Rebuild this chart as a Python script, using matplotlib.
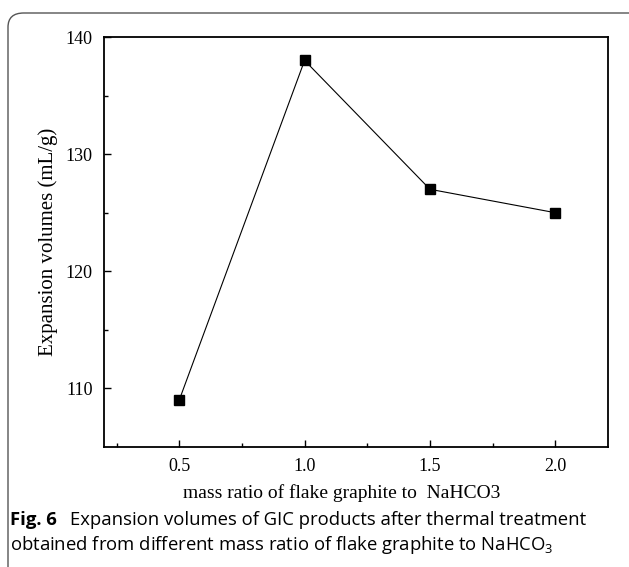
import matplotlib
matplotlib.use("Agg")
import matplotlib.pyplot as plt
from matplotlib.patches import FancyBboxPatch

# data
mass_ratio = [0.5, 1.0, 1.5, 2.0]
expansion = [109, 138, 127, 125]
x_ticks = [0.5, 1.0, 1.5, 2.0]
y_ticks = [110, 120, 130, 140]

plt.rcParams['mathtext.fontset'] = 'custom'
plt.rcParams['mathtext.rm'] = 'Open Sans'

fig = plt.figure(figsize=(6.29, 5.67), dpi=100)

# rounded frame around figure + caption
box = FancyBboxPatch((8 / 629, -0.05), 1.2, 0.05 + 1 - 13 / 567,
                     boxstyle="round,pad=0,rounding_size=0.025",
                     transform=fig.transFigure, fill=False,
                     edgecolor="#555555", linewidth=1.0)
fig.patches.append(box)

ax = fig.add_axes([104 / 629, 1 - 447 / 567, (608 - 104) / 629, (447 - 37) / 567])
ax.plot(mass_ratio, expansion, color="black", linewidth=0.8,
        marker="s", markersize=6.5, markerfacecolor="black")

ax.set_xlim(0.2, 2.21)
ax.set_ylim(105, 140)
ax.set_xticks(x_ticks)
ax.set_xticklabels(["%.1f" % v for v in x_ticks])
ax.set_yticks(y_ticks)
ax.set_xticks([0.25, 0.75, 1.25, 1.75], minor=True)
ax.set_yticks([115, 125, 135], minor=True)
ax.tick_params(which="both", direction="in", top=False, right=False)
ax.tick_params(which="major", length=5, width=1.0, labelsize=13, pad=8)
ax.tick_params(which="minor", length=3, width=1.0)
for lab in ax.get_xticklabels() + ax.get_yticklabels():
    lab.set_fontfamily("Liberation Serif")
for s in ax.spines.values():
    s.set_linewidth(1.3)

ax.set_xlabel("mass ratio of flake graphite to  NaHCO3",
              fontfamily="Liberation Serif", fontsize=14)
ax.xaxis.set_label_coords(0.471, -0.09)
ax.set_ylabel("Expansion volumes (mL/g)",
              fontfamily="Liberation Serif", fontsize=15)
ax.yaxis.set_label_coords(-0.091, 0.5)

# caption
fig.text(10 / 629, 1 - 520 / 567, "Fig. 6", fontfamily="Open Sans",
         fontweight="bold", fontsize=13.3, va="center", ha="left")
fig.text(70 / 629, 1 - 520 / 567,
         "Expansion volumes of GIC products after thermal treatment",
         fontfamily="Open Sans", fontsize=13.3, va="center", ha="left")
fig.text(10 / 629, 1 - 545 / 567,
         "obtained from different mass ratio of flake graphite to NaHCO$_3$",
         fontfamily="Open Sans", fontsize=13.3, va="center", ha="left")

fig.savefig("out.png", dpi=100)
